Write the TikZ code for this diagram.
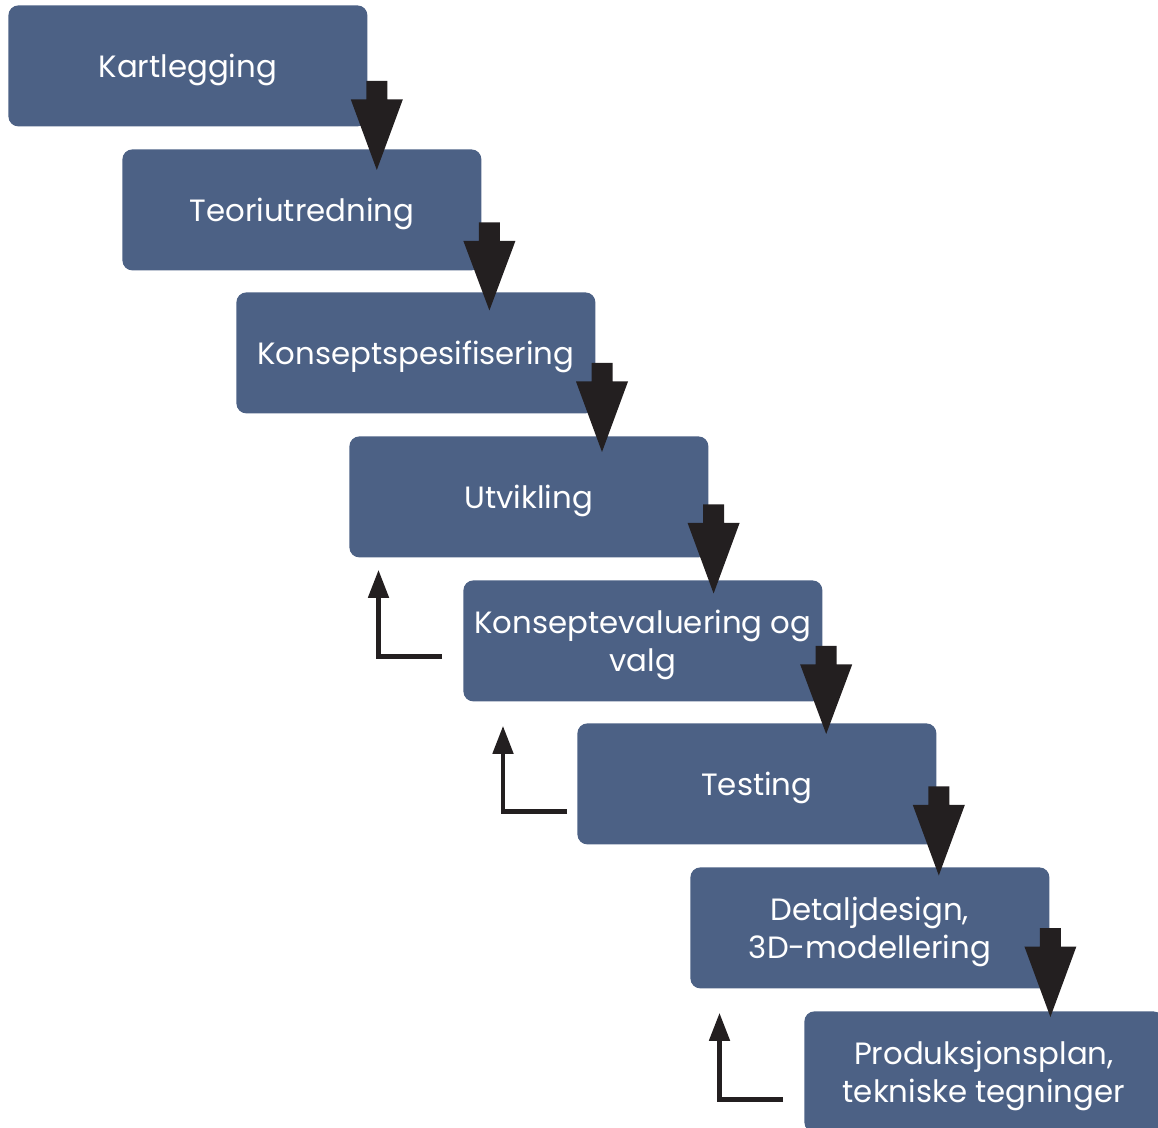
\documentclass[tikz,border=0pt]{standalone}
\usepackage{fontspec}
\setmainfont{Poppins}
\usetikzlibrary{calc,arrows.meta}
\definecolor{stepblue}{HTML}{4C6185}
\definecolor{arrowblack}{HTML}{231F20}
\begin{document}
\begin{tikzpicture}[x=0.5pt,y=-0.5pt,
  phase/.style={fill=stepblue, rounded corners=5pt, minimum width=179.5pt,
    minimum height=60.5pt, inner sep=0pt, text=white, align=center,
    text depth=0pt, font=\fontsize{15.4}{19}\selectfont, anchor=north west},
  feedback/.style={draw=arrowblack, line width=2.35pt,
    -{Triangle[width=10pt,length=14pt]}},
  blockarrow/.style={fill=arrowblack}]
\useasboundingbox (0,0) rectangle (1158,1128);
\clip (0,0) rectangle (1158,1128);

% the eight phases, stepping down to the right
\node[phase] (k1) at (8,5)     {Kartlegging};
\node[phase] (k2) at (122,149) {Teoriutredning};
\node[phase] (k3) at (236,292) {Konseptspesifisering};
\node[phase] (k4) at (349,436) {Utvikling};
\node[phase] (k5) at (463,580) {Konseptevaluering og\\valg};
\node[phase] (k6) at (577,723) {Testing};
\node[phase] (k7) at (690,867) {Detaljdesign,\\3D-modellering};
\node[phase] (k8) at (804,1011){Produksjonsplan,\\tekniske tegninger};

% block arrows from each phase down into the next one
\foreach \i [evaluate=\i as \j using int(\i+1)] in {1,...,7} {
  \pgfmathsetmacro\dx{9-1.4*(\i-1)}
  \pgfmathsetmacro\dy{76-2.5*(\i-1)}
  \pgfmathsetmacro\ty{21-2.5*(\i-1)}
  \coordinate (s\i) at ($(k\i.north east)+(\dx,\dy)$);
  \coordinate (t\i) at (s\i |- {$(k\j.north)+(0,\ty)$});
  \fill[blockarrow] ($(s\i)+(-10.5,0)$) -- ($(s\i)+(10.5,0)$)
    -- ($(s\i)+(10.5,18.5)$) -- ($(s\i)+(26,18.5)$) -- (t\i)
    -- ($(s\i)+(-26,18.5)$) -- ($(s\i)+(-10.5,18.5)$) -- cycle;
}

% feedback loops back to earlier phases
\coordinate (r1) at ($(k4.south west)+(29.5,12)$);
\coordinate (r2) at ($(k5.south west)+(40,24)$);
\coordinate (r3) at ($(k7.south west)+(29.5,24)$);
\draw[feedback] ($(k5.north west)+(-21,76.5)$) -| (r1);
\draw[feedback] ($(k6.north west)+(-10,88.5)$) -| (r2);
\draw[feedback] ($(k8.north west)+(-21,88.5)$) -| (r3);
\end{tikzpicture}
\end{document}
